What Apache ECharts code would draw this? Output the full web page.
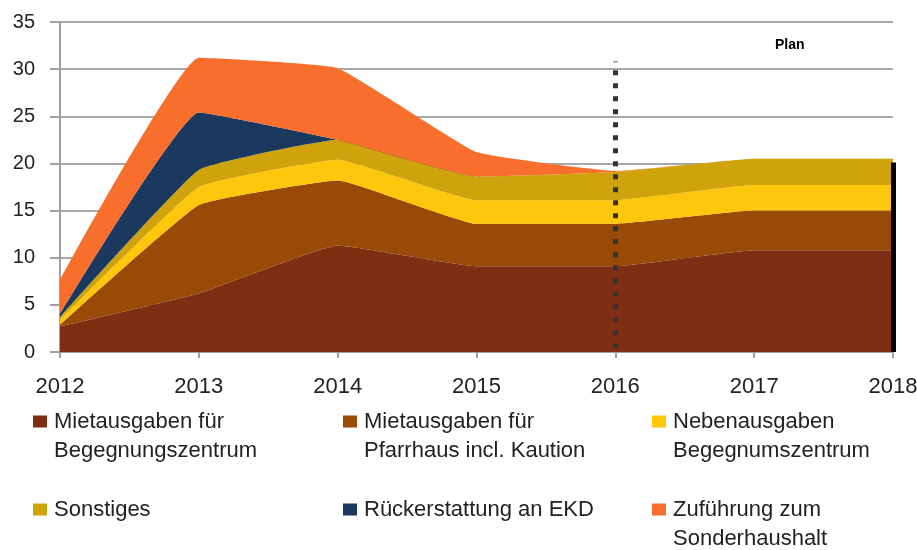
<!DOCTYPE html>
<html>
<head>
<meta charset="utf-8">
<title>Ausgaben 2012-2018</title>
<script src="https://cdn.jsdelivr.net/npm/echarts@6.0.0/dist/echarts.min.js"></script>
<style>
  html, body { margin: 0; padding: 0; background: #fff; }
  #chart { width: 917px; height: 550px; }
</style>
</head>
<body>
<div id="chart"></div>
<script>
// Jahre und Werte (gestapelt, von unten nach oben)
const years = ['2012', '2013', '2014', '2015', '2016', '2017', '2018']
const mieteZentrum = [2.7, 6.2, 11.3, 9.1, 9.1, 10.8, 10.8]
const mietePfarrhaus = [0.2, 9.4, 6.9, 4.5, 4.5, 4.2, 4.2]
const nebenkosten = [0.5, 1.9, 2.2, 2.5, 2.5, 2.7, 2.7]
const sonstiges = [0.3, 1.8, 2.1, 2.5, 3.0, 2.8, 2.8]
const rueckEKD = [0.3, 6.1, 0, 0, 0, 0, 0]
const sonderhaushalt = [3.6, 5.8, 7.6, 2.6, 0.1, 0, 0]
const yTicks = [0, 5, 10, 15, 20, 25, 30, 35]

const names = [
  'Mietausgaben für\nBegegnungszentrum',
  'Mietausgaben für\nPfarrhaus incl. Kaution',
  'Nebenausgaben\nBegegnumszentrum',
  'Sonstiges',
  'Rückerstattung an EKD',
  'Zuführung zum\nSonderhaushalt'
]
const colors = ['#7e2e13', '#994a07', '#ffc70b', '#cea30b', '#1b395f', '#f86f2d']
const values = [mieteZentrum, mietePfarrhaus, nebenkosten, sonstiges, rueckEKD, sonderhaushalt]

const font = 'Liberation Sans'
const chart = echarts.init(document.getElementById('chart'))

// Legendensymbol: Quadrat oben, damit es an der ersten Zeile steht
const twoLineIcon = 'path://M0,0H14V12H0Z M0,41H0.01V41.01H0Z'
const legendPos = [
  { left: 33, top: 407, two: true },
  { left: 343, top: 407, two: true },
  { left: 652, top: 407, two: true },
  { left: 33, top: 495, two: false },
  { left: 343, top: 495, two: false },
  { left: 652, top: 495, two: true }
]
const legends = names.map((n, i) => ({
  left: legendPos[i].left,
  top: legendPos[i].top,
  padding: 0,
  orient: 'vertical',
  selectedMode: false,
  itemWidth: 14,
  itemHeight: legendPos[i].two ? 41 : 12,
  icon: legendPos[i].two ? twoLineIcon : 'rect',
  data: [n],
  textStyle: {
    fontFamily: font,
    fontSize: 22,
    color: '#222',
    lineHeight: 29,
    padding: [0, 0, 0, 2]
  }
}))

const series = names.map((n, i) => ({
  name: n,
  type: 'line',
  stack: 'total',
  data: values[i],
  smooth: 0.1,
  symbol: 'none',
  lineStyle: { width: 0 },
  itemStyle: { color: colors[i] },
  areaStyle: { color: colors[i], opacity: 1 },
  emphasis: { disabled: true }
}))

// Plan-Grenze 2016 (Kreuzchen) und schwarzer Balken bei 2018
series[5].markLine = {
  silent: true,
  symbol: ['none', 'none'],
  label: { show: false },
  animation: false,
  data: [
    [
      { coord: ['2016', 0.4], lineStyle: { color: '#333', width: 5, type: [5, 8] } },
      { coord: ['2016', 30.8] }
    ],
    [
      { coord: ['2018', 0], lineStyle: { color: '#000', width: 5, type: 'solid' } },
      { coord: ['2018', 20.1] }
    ]
  ]
}

chart.setOption({
  animation: false,
  grid: { left: 60, right: 24, top: 22, bottom: 198, containLabel: false, outerBoundsMode: 'none' },
  legend: legends,
  xAxis: {
    type: 'category',
    data: years,
    boundaryGap: false,
    axisLine: { show: true, lineStyle: { color: '#a0a0a0', width: 2 } },
    axisTick: { show: true, length: 6, lineStyle: { color: '#a0a0a0', width: 2 } },
    axisLabel: { fontFamily: font, fontSize: 22, color: '#222', margin: 24 },
    splitLine: { show: false }
  },
  yAxis: {
    type: 'value',
    min: yTicks[0],
    max: yTicks[yTicks.length - 1],
    interval: 5,
    axisLine: { show: true, lineStyle: { color: '#a0a0a0', width: 2 } },
    axisTick: { show: true, length: 10, lineStyle: { color: '#a0a0a0', width: 2 } },
    axisLabel: { fontFamily: font, fontSize: 20, color: '#222', margin: 25 },
    splitLine: { show: true, lineStyle: { color: '#a8a8a8', width: 2 } }
  },
  graphic: [
    {
      type: 'text',
      left: 775,
      top: 38,
      style: { text: 'Plan', font: 'bold 14px "Liberation Sans"', fill: '#000' }
    }
  ],
  series: series
})
</script>
</body>
</html>
